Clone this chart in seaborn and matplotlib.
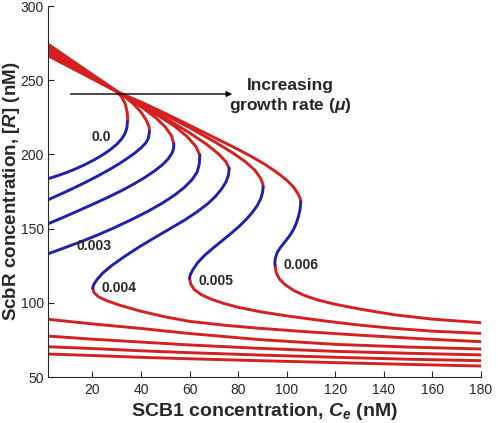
import pandas as pd
import seaborn as sns
import matplotlib.pyplot as plt

# growth rates, one S-shaped curve each
mu_labels = ["0.0", "0.001", "0.002", "0.003", "0.004", "0.005", "0.006"]

# (Ce, R) points; upper = stable, mid = unstable, low = stable
up_0 = [(1.7, 274.3), (10, 265.0), (20, 253.8), (27, 246.0), (30, 242.4), (32, 238.8), (33.5, 234.0), (34.3, 228.5), (34.5, 224.5), (34.4, 222.0)]
mid_0 = [(34.4, 222.0), (34.2, 218.0), (33.4, 214.0), (32, 210.4), (30, 206.8), (27.5, 203.4), (24.5, 200.0), (21, 196.6), (17, 193.2), (13, 190.2), (9, 187.6), (5, 185.3), (1.7, 183.6)]
low_0 = [(1.7, 65.5), (20, 64.5), (39.5, 63.3), (60, 62.3), (89, 61.0), (120, 59.7), (150, 58.5), (180, 57.4)]

up_1 = [(1.7, 273.0), (10, 264.1), (20, 253.3), (27, 245.8), (31, 241.5), (34, 238.0), (37, 233.8), (40, 228.5), (42.2, 223.0), (43.3, 218.5), (43.5, 215.5)]
mid_1 = [(43.5, 215.5), (43.0, 210.8), (41.9, 207.6), (40.0, 204.4), (37.5, 201.0), (34.5, 197.5), (31, 193.7), (27, 189.8), (22, 185.3), (17, 181.1), (12, 177.1), (7, 173.3), (1.7, 169.4)]
low_1 = [(1.7, 70.4), (20, 69.2), (39.5, 67.7), (60, 66.4), (89, 64.8), (120, 63.3), (150, 62.0), (180, 61.0)]

up_2 = [(1.7, 271.7), (10, 263.2), (20, 252.8), (27, 245.6), (31, 241.5), (36, 236.4), (41, 231.0), (46, 224.8), (50, 218.5), (52.6, 212.5), (53.5, 207.0)]
mid_2 = [(53.5, 207.0), (53.4, 204.0), (52.8, 201.0), (51.2, 197.0), (48.8, 193.0), (45.5, 188.8), (41.5, 184.4), (37, 180.0), (32, 175.6), (26, 170.8), (20, 166.3), (14, 161.9), (8, 157.6), (1.7, 153.2)]
low_2 = [(1.7, 77.6), (20, 75.5), (39.5, 73.6), (60, 71.6), (89, 69.3), (120, 67.3), (150, 66.0), (180, 64.9)]

up_3 = [(1.7, 270.4), (10, 262.2), (20, 252.3), (27, 245.4), (31, 241.5), (36, 236.9), (40, 232.8), (48, 225.2), (54, 218.8), (59, 212.0), (62.5, 205.5), (64.2, 199.6)]
mid_3 = [(64.2, 199.6), (64.0, 193.5), (63.1, 188.0), (61, 183.0), (58, 178.0), (54, 172.8), (49, 167.4), (43, 161.8), (36, 156.0), (29, 150.6), (22, 145.6), (15, 141.0), (8, 136.8), (1.7, 133.0)]
low_3 = [(1.7, 88.9), (20, 85.8), (39.5, 82.8), (60, 79.3), (89, 75.2), (120, 72.0), (150, 70.2), (180, 68.9)]

up_4 = [(1.7, 269.1), (10, 261.3), (20, 251.8), (27, 245.2), (31, 241.5), (36, 237.3), (40, 233.8), (50, 224.5), (60, 214.5), (67, 206.8), (72, 200.2), (75, 195.0), (76.3, 190.6)]
mid_4 = [(76.3, 190.6), (76.0, 186.0), (75.0, 181.5), (73.2, 176.8), (70.6, 171.6), (67.2, 166.4), (63.0, 161.2), (58.0, 155.8), (52.0, 150.0), (45.5, 143.8), (39.0, 137.4), (33.0, 131.0), (28.0, 125.2), (24.2, 120.0), (21.8, 115.5), (20.5, 112.2), (20.1, 109.8)]
low_4 = [(20.1, 109.8), (20.6, 107.0), (22.5, 104.0), (25.8, 101.5), (31, 98.5), (39.5, 94.5), (50, 90.5), (60, 87.5), (75, 84.8), (89, 82.8), (110, 80.3), (130, 78.2), (155, 75.8), (180, 73.8)]

up_5 = [(1.7, 267.8), (10, 260.4), (20, 251.4), (27, 245.1), (31, 241.5), (36, 237.7), (40, 234.6), (50, 226.6), (60, 218.0), (70, 208.8), (78, 200.8), (83, 195.0), (86.8, 189.5), (89.2, 184.0), (90.1, 180.5), (90.3, 178.2)]
mid_5 = [(90.3, 178.2), (90.0, 174.0), (89.2, 169.8), (87.8, 165.4), (85.8, 160.8), (83.2, 156.0), (80.2, 151.2), (76.8, 146.4), (73.2, 141.6), (69.6, 136.8), (66.2, 132.0), (63.4, 127.2), (61.4, 122.4), (60.3, 119.0), (60.0, 116.5)]
low_5 = [(60.0, 116.5), (60.5, 112.5), (62.0, 108.8), (64.8, 105.5), (69, 102.4), (74, 99.6), (80, 97.0), (89, 94.0), (100, 91.2), (116.5, 87.6), (130, 85.0), (144, 82.8), (160, 80.9), (180, 79.4)]

up_6 = [(1.7, 266.5), (10, 259.4), (20, 250.9), (27, 244.9), (31, 241.5), (36, 238.0), (40, 235.3), (50, 227.6), (60, 219.6), (70, 211.5), (78, 205.0), (85, 199.0), (91, 193.3), (96, 187.8), (100, 182.6), (102.8, 178.0), (104.6, 173.5), (105.5, 170.5), (105.8, 168.1)]
mid_6 = [(105.8, 168.1), (105.5, 163.0), (104.8, 158.0), (103.9, 153.5), (102.7, 149.1), (101.1, 145.0), (99.3, 141.2), (97.5, 137.5), (96.1, 134.0), (95.3, 130.0), (95.1, 127.5), (95.2, 125.5)]
low_6 = [(95.2, 125.5), (95.6, 120.5), (97.0, 116.0), (99.5, 112.0), (103, 108.2), (107.5, 104.8), (113, 101.8), (120, 99.0), (130, 95.8), (144, 92.0), (160, 89.0), (180, 86.6)]

curves = {
    "0.0": (up_0, mid_0, low_0),
    "0.001": (up_1, mid_1, low_1),
    "0.002": (up_2, mid_2, low_2),
    "0.003": (up_3, mid_3, low_3),
    "0.004": (up_4, mid_4, low_4),
    "0.005": (up_5, mid_5, low_5),
    "0.006": (up_6, mid_6, low_6),
}

rows = []
for mu in mu_labels:
    for name, pts, kind in zip(["up", "mid", "low"], curves[mu], ["stable", "unstable", "stable"]):
        for i, (ce, r) in enumerate(pts):
            rows.append({"Ce": ce, "R": r, "seg": mu + name, "kind": kind, "order": i})
df = pd.DataFrame(rows)

sns.set_style("ticks")
plt.rcParams["font.family"] = ["Liberation Sans", "DejaVu Sans"]
plt.rcParams["mathtext.fontset"] = "custom"
plt.rcParams["mathtext.rm"] = "Liberation Sans:bold"
plt.rcParams["mathtext.bf"] = "Liberation Sans:bold"
plt.rcParams["mathtext.it"] = "Liberation Sans:italic:bold"

fig = plt.figure(figsize=(4.98, 4.23), dpi=100)
ax = fig.add_axes([0.0964, 0.1087, 0.8695, 0.8771])

sns.lineplot(data=df, x="Ce", y="R", hue="kind", units="seg", estimator=None,
             sort=False, palette={"stable": "#d42020", "unstable": "#2020b0"},
             linewidth=2.1, legend=False, ax=ax)

# curve labels
label_pos = {"0.0": (23.8, 212), "0.003": (20.5, 138), "0.004": (30.9, 110.3),
             "0.005": (70.8, 114.7), "0.006": (105.9, 125.5)}
for mu, (x, y) in label_pos.items():
    ax.text(x, y, mu, fontsize=10, fontweight="bold", ha="center", va="center")

ax.annotate("", xy=(78.7, 240.7), xytext=(9.8, 240.7),
            arrowprops=dict(arrowstyle="-|>", color="black", lw=1, mutation_scale=8))
ax.text(101.5, 239.0, "Increasing\ngrowth rate ($\\mu$)", fontsize=12.5,
        fontweight="bold", ha="center", va="center", linespacing=1.15)

ax.set_xlim(1.7, 180)
ax.set_ylim(50, 300)
ax.set_xticks(range(20, 181, 20))
ax.set_yticks(range(50, 301, 50))
ax.tick_params(direction="in", length=4, width=0.8, labelsize=10)
ax.tick_params(axis="x", pad=4)
ax.tick_params(axis="y", pad=3)
sns.despine(ax=ax)
for s in ["left", "bottom"]:
    ax.spines[s].set_linewidth(0.8)

ax.set_xlabel("SCB1 concentration, $\\mathit{C_e}$ (nM)", fontsize=14, fontweight="bold", labelpad=3)
ax.set_ylabel("ScbR concentration, [$\\mathit{R}$] (nM)", fontsize=13.5, fontweight="bold")
ax.yaxis.set_label_coords(-0.0612, 0.5)

plt.savefig("out.png", dpi=100)
